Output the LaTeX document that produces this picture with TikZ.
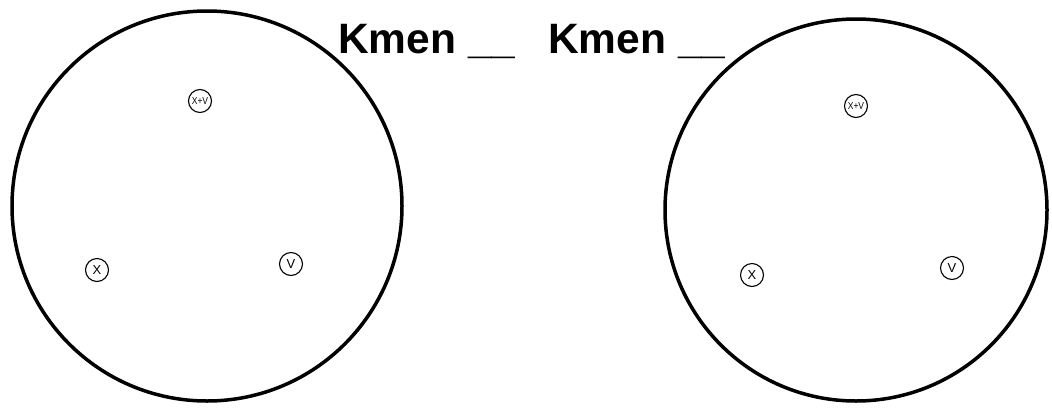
\documentclass[tikz,border=0pt]{standalone}
\usepackage{fontspec}
\setmainfont{Liberation Sans}
\begin{document}
\begin{tikzpicture}[x=1pt,y=-1pt,
  big/.style={draw=black,line width=3.5pt,circle,minimum size=#1,inner sep=0pt},
  small/.style={draw=black,line width=1.1pt,circle,minimum size=23pt,inner sep=0pt,font=\fontsize{13}{13}\selectfont},
  kmen/.style={font=\bfseries\fontsize{42.5}{42.5}\selectfont,inner sep=0pt,anchor=base west}]
\useasboundingbox (0,0) rectangle (1052,408);
\node[big=390pt] (L) at (207,206) {};
\node[big=382pt] (R) at (856,210) {};
\node[small] (lxv) at (200,101) {\fontsize{10}{10}\selectfont\scalebox{0.85}[1]{X+V}};
\node[small] (lx) at (97,270) {X};
\node[small] (lv) at (291,264) {V};
\node[small] (rxv) at (856,106) {\fontsize{10}{10}\selectfont\scalebox{0.85}[1]{X+V}};
\node[small] (rx) at (752,275) {X};
\node[small] (rv) at (952,268) {V};
\node[kmen] (t1) at (338,53) {Kmen \_\_};
\node[kmen] (t2) at (548,53) {Kmen \_\_};
\end{tikzpicture}
\end{document}
